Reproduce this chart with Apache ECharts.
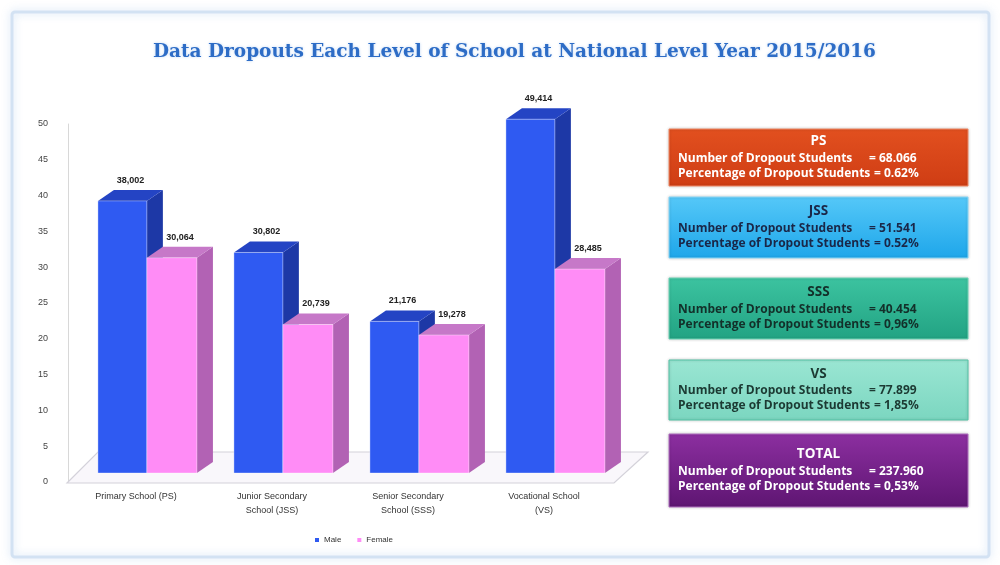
<!DOCTYPE html>
<html><head><meta charset="utf-8">
<script src="https://cdn.jsdelivr.net/npm/echarts@6/dist/echarts.min.js"></script>
<style>html,body{margin:0;padding:0;background:#fff}#c{width:1000px;height:565px}</style>
</head><body><div id="c"></div>
<script>
const categories = ['Primary School (PS)', 'Junior Secondary\nSchool (JSS)', 'Senior Secondary\nSchool (SSS)', 'Vocational School\n(VS)'];
const maleValues = [38.002, 30.802, 21.176, 49.414];
const femaleValues = [30.064, 20.739, 19.278, 28.485];
const yMin = 0, yMax = 50, yInterval = 5;
const boxTitles = ['PS', 'JSS', 'SSS', 'VS', 'TOTAL'];
const boxCounts = ['68.066', '51.541', '40.454', '77.899', '237.960'];
const boxPercents = ['0.62%', '0.52%', '0,96%', '1,85%', '0,53%'];

const chart = echarts.init(document.getElementById('c'), null, {renderer: 'canvas'});

function fmt(v) { return Math.round(v * 1000).toLocaleString('en-US'); }

function bar3D(offFrac, wFrac, front, side, topc) {
  return function (params, api) {
    const idx = api.value(0), v = api.value(1);
    const base = api.coord([idx, 0]);
    const top = api.coord([idx, v]);
    const band = api.size([1, 0])[0];
    const x0 = base[0] + offFrac * band, w = wFrac * band;
    const lift = 9, dx = 16, dy = -11;
    const yb = base[1] - lift, yt = top[1] - lift;
    return {
      type: 'group',
      children: [
        {type: 'polygon', shape: {points: [[x0 + w, yb], [x0 + w + dx, yb + dy], [x0 + w + dx, yt + dy], [x0 + w, yt]]}, style: {fill: side}},
        {type: 'polygon', shape: {points: [[x0, yt], [x0 + dx, yt + dy], [x0 + w + dx, yt + dy], [x0 + w, yt]]}, style: {fill: topc}},
        {type: 'rect', shape: {x: x0, y: yt, width: w, height: yb - yt}, style: {fill: front, stroke: 'rgba(255,255,255,0.35)', lineWidth: 1}},
        {type: 'text', x: x0 + w / 2 + dx / 2, y: yt + dy - 5, style: {text: fmt(v), fill: '#222', font: 'bold 9px "Liberation Sans", Arial', align: 'center', verticalAlign: 'bottom'}}
      ]
    };
  };
}

function floorItem(params, api) {
  const cs = params.coordSys;
  const b = cs.y + cs.height + 1;
  return {
    type: 'group',
    children: [
      {type: 'polygon', shape: {points: [[cs.x - 1, b], [cs.x + cs.width + 2, b], [cs.x + cs.width + 36, b - 31], [cs.x + 30, b - 31]]},
       style: {fill: '#f9f7fb', stroke: '#d4d2da', lineWidth: 1.2}}
    ]
  };
}

// info boxes
const boxDefs = [
  {y: 129, h: 57, c1: '#e2501f', c2: '#cf3d14', txt: '#ffffff', stroke: '#f08a66'},
  {y: 197, h: 61, c1: '#55c8f8', c2: '#1ea6ea', txt: '#1a2748', stroke: '#8ad8f8'},
  {y: 278, h: 61, c1: '#3cc3a0', c2: '#22a383', txt: '#13302a', stroke: '#6ed4b6'},
  {y: 360, h: 60, c1: '#9ae6d3', c2: '#7bd6c0', txt: '#1c3a33', stroke: '#55c3a6'},
  {y: 434, h: 73, c1: '#8c2fa0', c2: '#5e1572', txt: '#ffffff', stroke: '#b070c0'}
];
const graphics = [
  {type: 'rect', shape: {x: 12, y: 12, width: 977, height: 545, r: 3}, style: {fill: 'none', stroke: '#d3e2f3', lineWidth: 3, shadowBlur: 8, shadowColor: 'rgba(110,160,220,0.35)'}, z: -10}
];
boxTitles.forEach((t, i) => {
  const d = boxDefs[i];
  const x = 669, w = 299;
  graphics.push({type: 'rect', shape: {x: x, y: d.y, width: w, height: d.h},
    style: {fill: new echarts.graphic.LinearGradient(0, 0, 0, 1, [{offset: 0, color: d.c1}, {offset: 1, color: d.c2}]), stroke: d.stroke, lineWidth: 1, shadowBlur: 3, shadowColor: 'rgba(0,0,0,0.2)'}});
  const mid = d.y + d.h / 2;
  const font = 'bold 12px "Open Sans", "Noto Sans", sans-serif';
  graphics.push({type: 'text', x: x + w / 2, y: mid - 16, style: {text: t, fill: d.txt, font: 'bold 13.5px "Open Sans", "Noto Sans", sans-serif', align: 'center', verticalAlign: 'middle'}});
  graphics.push({type: 'text', x: 678, y: mid + 1, style: {text: 'Number of Dropout Students', fill: d.txt, font: font, verticalAlign: 'middle'}});
  graphics.push({type: 'text', x: 869, y: mid + 1, style: {text: '= ' + boxCounts[i], fill: d.txt, font: font, verticalAlign: 'middle'}});
  graphics.push({type: 'text', x: 678, y: mid + 16, style: {text: 'Percentage of Dropout Students', fill: d.txt, font: font, verticalAlign: 'middle'}});
  graphics.push({type: 'text', x: 874, y: mid + 16, style: {text: '= ' + boxPercents[i], fill: d.txt, font: font, verticalAlign: 'middle'}});
});

chart.setOption({
  animation: false,
  backgroundColor: '#ffffff',
  title: {
    text: 'Data Dropouts Each Level of School at National Level Year 2015/2016',
    left: 148, top: 38,
    textStyle: {fontFamily: 'DejaVu Serif', fontWeight: 'bold', fontSize: 18.5, color: '#2d6cc6', textShadowColor: 'rgba(120,170,230,0.5)', textShadowBlur: 3}
  },
  legend: {
    data: ['Male', 'Female'], left: 310, top: 531, itemWidth: 4, itemHeight: 4, itemGap: 16, icon: 'rect',
    textStyle: {fontSize: 8, color: '#333', fontFamily: 'Liberation Sans'}
  },
  grid: {left: 68, right: 388, top: 124, bottom: 83},
  xAxis: {
    type: 'category', data: categories,
    axisLine: {show: false}, axisTick: {show: false},
    axisLabel: {fontSize: 9, color: '#333', fontFamily: 'Liberation Sans', margin: 8, lineHeight: 14, interval: 0}
  },
  yAxis: {
    type: 'value', min: yMin, max: yMax, interval: yInterval,
    axisLine: {show: true, lineStyle: {color: '#d8d8d8'}}, axisTick: {show: false},
    splitLine: {show: false},
    axisLabel: {fontSize: 9, color: '#444', fontFamily: 'Liberation Sans', margin: 20}
  },
  graphic: graphics,
  series: [
    {name: 'floor', type: 'custom', renderItem: floorItem, data: [[0, 0]], z: 1, silent: true},
    {name: 'Male', type: 'custom', itemStyle: {color: '#2f5af0'}, renderItem: bar3D(-0.28, 0.36, '#2f5af2', '#1d38a6', '#2444c4'),
     data: maleValues.map((v, i) => [i, v]), z: 2},
    {name: 'Female', type: 'custom', itemStyle: {color: '#ff8cf6'}, renderItem: bar3D(0.08, 0.368, '#ff8cf6', '#b262b4', '#c678c8'),
     data: femaleValues.map((v, i) => [i, v]), z: 3}
  ]
});
</script>
</body></html>
